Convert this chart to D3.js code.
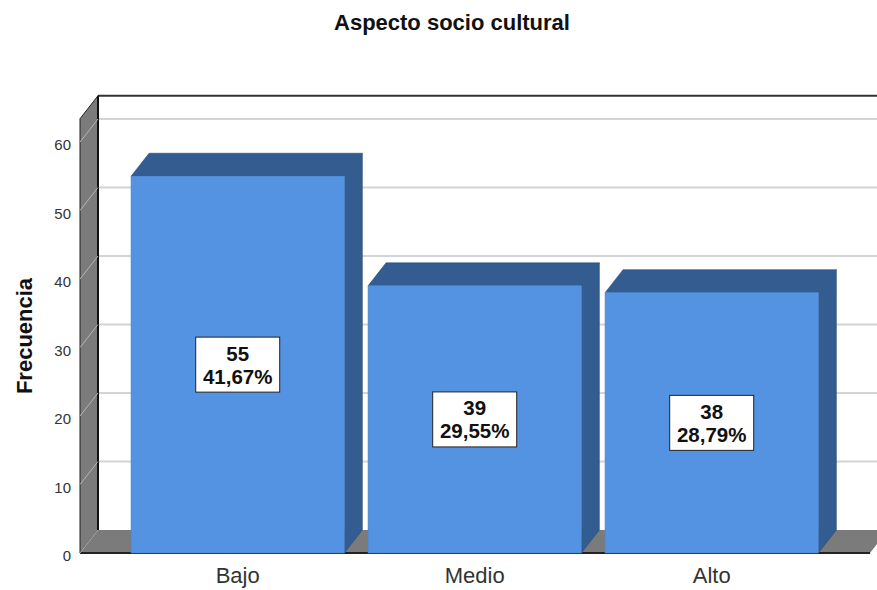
<!DOCTYPE html>
<html><head><meta charset="utf-8">
<script src="https://cdnjs.cloudflare.com/ajax/libs/d3/7.8.5/d3.min.js"></script>
<style>body{margin:0;background:#fff;}svg{display:block;font-family:"Liberation Sans",Arial,sans-serif;}</style>
</head><body>
<svg id="c" width="877" height="590"></svg>
<script>
const categories = ["Bajo", "Medio", "Alto"];
const counts = [55, 39, 38];
const percents = ["41,67%", "29,55%", "28,79%"];
const yTicks = [0, 10, 20, 30, 40, 50, 60];
const title = "Aspecto socio cultural";
const yTitle = "Frecuencia";

const W = 877, H = 590;
const dx = 18, dy = 23;          // depth offset
const svg = d3.select("#c");

const y = d3.scaleLinear().domain([0, 60]).range([553, 142]);
const yMax = 63.4;
const x = d3.scaleBand().domain(categories).range([119.2, 830.2]).paddingInner(0.1).paddingOuter(0.05);
const wallLeft = 80, wallRight = 900;

const g = svg.append("g");

// back wall top border
g.append("line").attr("x1", wallLeft + dx).attr("x2", wallRight).attr("y1", y(yMax) - dy).attr("y2", y(yMax) - dy)
  .attr("stroke", "#333").attr("stroke-width", 2);

// gridlines on back wall
yTicks.filter(v => v > 0).forEach(v => {
  g.append("line").attr("x1", wallLeft + dx).attr("x2", wallRight).attr("y1", y(v) - dy).attr("y2", y(v) - dy)
    .attr("stroke", "#d4d4d4").attr("stroke-width", 2);
});

// left wall
g.append("path").attr("d", `M${wallLeft},${y(yMax)} L${wallLeft + dx},${y(yMax) - dy} L${wallLeft + dx},${y(0) - dy} L${wallLeft},${y(0)} Z`)
  .attr("fill", "#7b7b7b").attr("stroke", "#222").attr("stroke-width", 1);
g.append("line").attr("x1", wallLeft + dx).attr("x2", wallLeft + dx).attr("y1", y(yMax) - dy).attr("y2", y(0) - dy)
  .attr("stroke", "#111").attr("stroke-width", 2);
yTicks.filter(v => v > 0).forEach(v => {
  g.append("line").attr("x1", wallLeft).attr("y1", y(v)).attr("x2", wallLeft + dx).attr("y2", y(v) - dy)
    .attr("stroke", "#b5b5b5").attr("stroke-width", 1);
});

// floor
g.append("path").attr("d", `M${wallLeft},${y(0)} L${wallLeft + dx},${y(0) - dy} L${wallRight},${y(0) - dy} L${870 + dx},${y(0) - dy} L870,${y(0)} Z`)
  .attr("fill", "#7b7b7b");
g.append("line").attr("x1", wallLeft).attr("x2", 870).attr("y1", y(0)).attr("y2", y(0)).attr("stroke", "#222").attr("stroke-width", 2);
g.append("line").attr("x1", wallLeft).attr("y1", y(0)).attr("x2", wallLeft + dx).attr("y2", y(0) - dy).attr("stroke", "#aaa").attr("stroke-width", 1);

// bars
const front = "#5393E2", dark = "#335C91";
categories.forEach((c, i) => {
  const x0 = x(c), x1 = x(c) + x.bandwidth(), yt = y(counts[i]), yb = y(0);
  g.append("path").attr("d", `M${x1},${yt} L${x1 + dx},${yt - dy} L${x1 + dx},${yb - dy} L${x1},${yb} Z`).attr("fill", dark).attr("stroke", "#2b4d7a").attr("stroke-width", 0.6);
  g.append("path").attr("d", `M${x0},${yt} L${x0 + dx},${yt - dy} L${x1 + dx},${yt - dy} L${x1},${yt} Z`).attr("fill", dark).attr("stroke", "#2b4d7a").attr("stroke-width", 0.6);
  g.append("rect").attr("x", x0).attr("y", yt).attr("width", x1 - x0).attr("height", yb - yt).attr("fill", front).attr("stroke", "#4a84cc").attr("stroke-width", 0.6);
  // label box
  const cx = (x0 + x1) / 2, cy = (yt + yb) / 2;
  g.append("rect").attr("x", cx - 42).attr("y", cy - 27.5).attr("width", 84).attr("height", 55)
    .attr("fill", "#fff").attr("stroke", "#222").attr("stroke-width", 1);
  g.append("text").attr("x", cx).attr("y", cy - 4).attr("text-anchor", "middle").attr("font-size", 20.5).attr("font-weight", "bold").attr("fill", "#111").text(counts[i]);
  g.append("text").attr("x", cx).attr("y", cy + 19).attr("text-anchor", "middle").attr("font-size", 20.5).attr("font-weight", "bold").attr("fill", "#111").text(percents[i]);
  // category label
  g.append("text").attr("x", cx).attr("y", 583).attr("text-anchor", "middle").attr("font-size", 22).attr("fill", "#333").text(c);
});

// y tick labels
yTicks.forEach(v => {
  g.append("text").attr("x", 71).attr("y", y(v) + 8).attr("text-anchor", "end").attr("font-size", 15).attr("fill", "#333").text(v);
});

// titles
svg.append("text").attr("x", 452).attr("y", 30).attr("text-anchor", "middle").attr("font-size", 22).attr("font-weight", "bold").attr("fill", "#111").text(title);
svg.append("text").attr("transform", "translate(32,336) rotate(-90)").attr("text-anchor", "middle").attr("font-size", 22).attr("font-weight", "bold").attr("fill", "#111").text(yTitle);
</script>
</body></html>
